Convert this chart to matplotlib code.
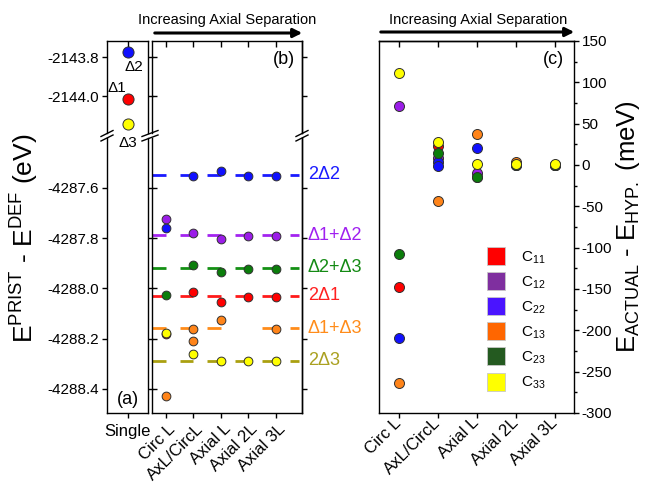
import numpy as np
import matplotlib
matplotlib.use('Agg')
import matplotlib.pyplot as plt
from matplotlib.lines import Line2D
from matplotlib.patches import FancyArrowPatch
from matplotlib.ticker import MultipleLocator, FormatStrFormatter, FixedLocator
from matplotlib.transforms import ScaledTranslation

plt.rcParams['font.family'] = ['Liberation Sans', 'DejaVu Sans']
plt.rcParams['mathtext.fontset'] = 'custom'
plt.rcParams['mathtext.rm'] = 'Liberation Sans'
plt.rcParams['mathtext.it'] = 'Liberation Sans:italic'
plt.rcParams['mathtext.bf'] = 'Liberation Sans:bold'
plt.rcParams['lines.scale_dashes'] = False
plt.rcParams['axes.unicode_minus'] = False

# ---------------- data ----------------
categories = ['Circ L', 'AxL/CircL', 'Axial L', 'Axial 2L', 'Axial 3L']
series = ['C11', 'C12', 'C22', 'C13', 'C23', 'C33']
legend_labels = [r'C$_{11}$', r'C$_{12}$', r'C$_{22}$', r'C$_{13}$', r'C$_{23}$', r'C$_{33}$']

# panel (a): single defects (eV)
single_labels = ['Δ2', 'Δ1', 'Δ3']
single_values = [-2143.774, -2144.015, -2144.144]

# panel (b): reference sums (eV), one per series
ref_labels = ['2Δ1', 'Δ1+Δ2', '2Δ2', 'Δ1+Δ3', 'Δ2+Δ3', '2Δ3']
ref_values = [-4288.030, -4287.789, -4287.548, -4288.159, -4287.918, -4288.288]

nan = np.nan
b_C11 = [-4288.183, -4288.013, -4288.053, -4288.035, -4288.035]
b_C12 = [-4287.7235, -4287.778, -4287.804, -4287.791, -4287.791]
b_C22 = [-4287.761, -4287.551, -4287.531, -4287.551, -4287.551]
b_C13 = [-4288.429, -4288.162, -4288.126, nan, -4288.163]
b_C23 = [-4288.026, -4287.907, -4287.936, -4287.923, -4287.923]
b_C33 = [-4288.179, -4288.263, -4288.289, -4288.289, -4288.289]
b_C13_extra_cat = ['AxL/CircL']
b_C13_extra_val = [-4288.208]

# panel (c): deviation from reference (meV)
c_C11 = [-147.5, 23, -14, 1, 0]
c_C12 = [71, 9, -10, 0, 0]
c_C22 = [-209, 3.5, 20.5, 0, 0]
c_C13 = [-264, -44, 37.4, 3.7, 0]
c_C23 = [-107.3, 14.5, -14.5, 0, 0]
c_C33 = [111, 27.3, 1.2, 1.2, 0.8]
c_C22_extra_cat = ['AxL/CircL']
c_C22_extra_val = [-1.5]

b_data = [b_C11, b_C12, b_C22, b_C13, b_C23, b_C33]
c_data = [c_C11, c_C12, c_C22, c_C13, c_C23, c_C33]

# ---------------- styles ----------------
marker_colors = ['#ff0000', '#9b1de8', '#1010ff', '#ff8419', '#0b7d0b', '#ffff00']
line_colors = ['#ff1a1a', '#a324f0', '#1a1aff', '#ff8c1a', '#149014', '#aaa010']
text_colors = ['#ff2020', '#a020f0', '#1a1aff', '#ff8c1a', '#148a14', '#aaa020']
legend_colors = ['#ff0000', '#7f2f9f', '#4a14ff', '#ff6600', '#245a20', '#ffff00']
single_colors = ['#1010ff', '#ff0000', '#ffff00']
edge = '#303030'
TL = 3.6   # tick length (pt)
TW = 1.0

W, H = 645, 490
fig = plt.figure(figsize=(W / 100, H / 100), dpi=100)


def rect(x0, y0, x1, y1):
    return [x0 / W, 1 - y1 / H, (x1 - x0) / W, (y1 - y0) / H]


axa_u = fig.add_axes(rect(107, 41, 148, 133.5))
axa_l = fig.add_axes(rect(107, 138, 148, 413))
axb_u = fig.add_axes(rect(152, 41, 302, 133.5))
axb_l = fig.add_axes(rect(152, 138, 302, 413))
axc = fig.add_axes(rect(379, 41, 574, 413))

ylim_u = (-2144.19, -2143.718)
ylim_l = (-4288.496, -4287.401)
xpos = np.arange(1, len(categories) + 1)
cat_index = {c: i + 1 for i, c in enumerate(categories)}

for ax in (axa_u, axa_l, axb_u, axb_l, axc):
    ax.patch.set_visible(False)
    for s in ax.spines.values():
        s.set_linewidth(1.0)
    ax.tick_params(width=TW, length=TL, labelsize=11, pad=2)

label_shift = ScaledTranslation(7 / 100, -6 / 100, fig.dpi_scale_trans)

# ---- panel (a)
for ax, yl in ((axa_u, ylim_u), (axa_l, ylim_l)):
    ax.set_xlim(0.5, 1.5)
    ax.set_ylim(*yl)
    ax.yaxis.set_major_locator(MultipleLocator(0.2))
    ax.yaxis.set_major_formatter(FormatStrFormatter('%.1f'))
    ax.tick_params(axis='y', which='both', left=True, right=True, direction='out')
axa_u.spines['bottom'].set_visible(False)
axa_l.spines['top'].set_visible(False)
axa_u.set_xticks([1])
axa_u.tick_params(axis='x', top=True, bottom=False, labelbottom=False, direction='in', length=4.2)
axa_l.set_xticks([1])
axa_l.set_xticklabels(['Single'], fontsize=12)
axa_l.tick_params(axis='x', top=False, bottom=True, direction='out', pad=4)

for v, c in zip(single_values, single_colors):
    axa_u.plot([1], [v], marker='o', ms=8, mfc=c, mec=edge, mew=0.7, ls='none', zorder=3)
offsets = [(4.3, -10.8), (-7.9, 7.9), (0, -13)]
for lab, v, off in zip(single_labels, single_values, offsets):
    axa_u.annotate(lab, (1, v), xytext=off, textcoords='offset points',
                   ha='center', va='center', fontsize=11, annotation_clip=False)
axa_l.text(0.5, 0.048, '(a)', transform=axa_l.transAxes, ha='center', va='center', fontsize=13)

# ---- panel (b)
for ax, yl in ((axb_u, ylim_u), (axb_l, ylim_l)):
    ax.set_xlim(0.49, 5.95)
    ax.set_ylim(*yl)
    ax.yaxis.set_major_locator(MultipleLocator(0.2))
    ax.tick_params(axis='y', left=True, right=False, labelleft=False, direction='in')
    ax.set_xticks(xpos)
    sec = ax.secondary_yaxis('right')
    sec.yaxis.set_major_locator(MultipleLocator(0.2))
    sec.tick_params(axis='y', direction='out', length=TL, width=TW, labelright=False)
    sec.spines['right'].set_linewidth(1.0)
axb_u.spines['bottom'].set_visible(False)
axb_l.spines['top'].set_visible(False)
axb_u.tick_params(axis='x', top=True, bottom=False, labelbottom=False, direction='in', length=4.2)
axb_l.tick_params(axis='x', top=False, bottom=True, direction='out')
axb_l.set_xticklabels(categories, rotation=45, ha='right', va='center', rotation_mode='anchor', fontsize=12)
for lab in axb_l.get_xticklabels():
    lab.set_transform(lab.get_transform() + label_shift)

for k in range(len(series)):
    vals = np.array(b_data[k], dtype=float)
    ok = ~np.isnan(vals)
    segx0 = list(xpos[ok] - 0.5) + [5.5]
    segx1 = list(xpos[ok]) + [5.85]
    axb_l.hlines([ref_values[k]] * len(segx0), segx0, segx1, colors=line_colors[k], lw=2.0, zorder=2)
    axb_l.text(1.04, ref_values[k], ref_labels[k], transform=axb_l.get_yaxis_transform(),
               color=text_colors[k], fontsize=13, ha='left', va='center')
for k in range(len(series)):
    axb_l.plot(xpos, b_data[k], marker='o', ms=6.3, mfc=marker_colors[k], mec=edge, mew=0.7,
               ls='none', zorder=3 + k * 0.1)
    if series[k] == 'C13':
        axb_l.plot([cat_index[c] for c in b_C13_extra_cat], b_C13_extra_val, marker='o', ms=6.3,
                   mfc=marker_colors[k], mec=edge, mew=0.7, ls='none', zorder=3 + k * 0.1)
axb_u.text(0.95, 0.8, '(b)', transform=axb_u.transAxes, ha='right', va='center', fontsize=13)

# ---- panel (c)
axc.set_xlim(0.5, 5.5)
axc.set_ylim(-300, 150)
axc.set_xticks(xpos)
axc.set_xticklabels(categories, rotation=45, ha='right', va='center', rotation_mode='anchor', fontsize=12)
for lab in axc.get_xticklabels():
    lab.set_transform(lab.get_transform() + label_shift)
axc.yaxis.set_major_locator(MultipleLocator(50))
axc.yaxis.set_minor_locator(MultipleLocator(25))
axc.tick_params(axis='y', which='both', left=False, labelleft=False, right=True, labelright=True, direction='out')
axc.tick_params(axis='y', which='minor', length=2.2, width=TW)
axc.tick_params(axis='x', bottom=True, top=False, direction='out')
secx = axc.secondary_xaxis('top')
secx.xaxis.set_major_locator(FixedLocator(xpos))
secx.tick_params(axis='x', direction='in', length=4.2, width=TW, labeltop=False)
secx.spines['top'].set_linewidth(1.0)
for k in range(len(series)):
    axc.plot(xpos, c_data[k], marker='o', ms=7.2, mfc=marker_colors[k], mec=edge, mew=0.7,
             ls='none', zorder=3 + k * 0.1)
    if series[k] == 'C22':
        axc.plot([cat_index[c] for c in c_C22_extra_cat], c_C22_extra_val, marker='o', ms=7.2,
                 mfc=marker_colors[k], mec=edge, mew=0.7, ls='none', zorder=3 + k * 0.1)
axc.text(0.95, 0.95, '(c)', transform=axc.transAxes, ha='right', va='center', fontsize=13)

handles = [Line2D([], [], ls='none', marker='s', markersize=13, markerfacecolor=c,
                  markeredgecolor='#c8c8c8', markeredgewidth=0.6) for c in legend_colors]
axc.legend(handles, legend_labels, loc='upper left', bbox_to_anchor=(0.555, 0.44), frameon=False,
           fontsize=11, handlelength=1.2, handletextpad=1.0, labelspacing=0.57, borderpad=0,
           borderaxespad=0)

# axis labels
fig.text(25 / W, 1 - 238 / H, r'E$^{\mathrm{PRIST}}$ - E$^{\mathrm{DEF}}$ (eV)', rotation=90,
         ha='center', va='center', fontsize=19)
fig.text(628 / W, 1 - 227 / H, r'E$_{\mathrm{ACTUAL}}$ - E$_{\mathrm{HYP.}}$ (meV)', rotation=90,
         ha='center', va='center', fontsize=18.5)

# top annotations
fig.text(227 / W, 1 - 20 / H, 'Increasing Axial Separation', ha='center', va='center', fontsize=10.5)
fig.text(478 / W, 1 - 20 / H, 'Increasing Axial Separation', ha='center', va='center', fontsize=10.5)
for x0, x1, y in ((152, 305, 33), (378, 577, 32)):
    fig.add_artist(FancyArrowPatch((x0 / W, 1 - y / H), (x1 / W, 1 - y / H), transform=fig.transFigure,
                                   arrowstyle='-|>', mutation_scale=13, lw=2.2, color='k'))

# axis break marks
for xc, half in ((107, 6), (150, 8), (302, 6)):
    for yc in (133.5, 138):
        fig.add_artist(Line2D([(xc - half) / W, (xc + half) / W], [1 - (yc + 3) / H, 1 - (yc - 3) / H],
                              transform=fig.transFigure, color='k', lw=1.0))

fig.savefig('out.png', dpi=100)
